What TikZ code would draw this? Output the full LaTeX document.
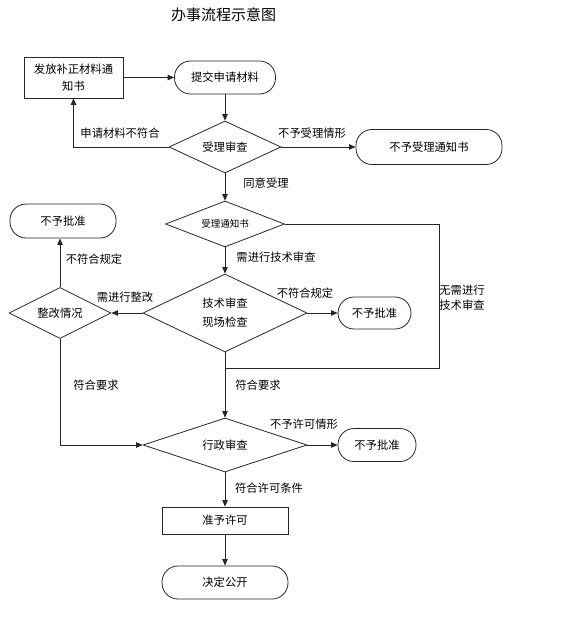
\documentclass[tikz,border=0pt]{standalone}
\usepackage{fontspec}
\newfontfamily\cjk{Noto Sans CJK SC}
\usetikzlibrary{shapes.geometric,arrows.meta}
\begin{document}
\begin{tikzpicture}[x=1pt,y=-1pt,
  base/.style={draw=black!85,line width=0.8pt,inner sep=0pt,font=\cjk\fontsize{11.3}{17}\selectfont,align=center},
  boxn/.style={base,rectangle},
  term/.style={base,rectangle,rounded corners=16pt},
  dia/.style={base,diamond,shape aspect=2},
  lbl/.style={font=\cjk\fontsize{11.3}{15}\selectfont,inner sep=0pt,align=left},
  ln/.style={draw=black!85,line width=0.8pt},
  arr/.style={ln,-{Triangle[length=6.5pt,width=5.5pt]}}]
\useasboundingbox (0,0) rectangle (570,620);
\node[font=\cjk\fontsize{15}{18}\selectfont] (title) at (223.5,15) {办事流程示意图};
\node[boxn,minimum width=99pt,minimum height=41pt] (bz) at (73.5,77.5) {发放补正材料通\\知书};
\node[term,minimum width=101pt,minimum height=33pt] (start) at (225,77.5) {提交申请材料};
\node[dia,minimum width=112pt,minimum height=52pt] (d1) at (225,147) {受理审查};
\node[term,minimum width=146pt,minimum height=35pt] (rej1) at (429,147) {不予受理通知书};
\node[dia,minimum width=119pt,minimum height=46pt,font=\cjk\fontsize{9.5}{12}\selectfont] (d2) at (225,224) {受理通知书};
\node[term,minimum width=106pt,minimum height=34pt] (rej3) at (63,221) {不予批准};
\node[dia,minimum width=164pt,minimum height=78pt,font=\cjk\fontsize{11.3}{19}\selectfont] (d3) at (225,313) {技术审查\\现场检查};
\node[term,minimum width=73pt,minimum height=32pt] (rej2) at (374.5,313) {不予批准};
\node[dia,minimum width=102pt,minimum height=51pt] (d4) at (60,313) {整改情况};
\node[dia,minimum width=164pt,minimum height=54pt] (d5) at (225,445) {行政审查};
\node[term,minimum width=78pt,minimum height=33pt] (rej4) at (377,445) {不予批准};
\node[boxn,minimum width=126pt,minimum height=27pt] (ok) at (225,520.5) {准予许可};
\node[term,minimum width=126pt,minimum height=33pt] (pub) at (225,582.5) {决定公开};
\coordinate (c) at (439,368);
\coordinate (j) at (225,368);
\draw[arr] (bz.east) -- (start.west);
\draw[arr] (start.south) -- (d1.north);
\draw[arr] (d1.west) -| (bz.south);
\draw[arr] (d1.east) -- (rej1.west);
\draw[arr] (d1.south) -- (d2.north);
\draw[ln] (d2.east) -| (c) -- (j);
\draw[arr] (d2.south) -- (d3.north);
\draw[arr] (d3.east) -- (rej2.west);
\draw[arr] (d3.west) -- (d4.east);
\draw[arr] (d4.north) -- (d4.north |- rej3.south);
\draw[arr] (d4.south) |- (d5.west);
\draw[arr] (d3.south) -- (d5.north);
\draw[arr] (d5.east) -- (rej4.west);
\draw[arr] (d5.south) -- (ok.north);
\draw[arr] (ok.south) -- (pub.north);
\node[lbl] (l1) at (120,133) {申请材料不符合};
\node[lbl] (l2) at (312,133) {不予受理情形};
\node[lbl] (l3) at (266,183) {同意受理};
\node[lbl] (l4) at (276,257) {需进行技术审查};
\node[lbl] (l5) at (462,297.5) {无需进行\\技术审查};
\node[lbl] (l6) at (305,293) {不符合规定};
\node[lbl] (l7) at (125,297) {需进行整改};
\node[lbl] (l8) at (94,259) {不符合规定};
\node[lbl] (l9) at (96,385) {符合要求};
\node[lbl] (l10) at (258,385) {符合要求};
\node[lbl] (l11) at (304,424) {不予许可情形};
\node[lbl] (l12) at (269,488) {符合许可条件};
\end{tikzpicture}
\end{document}
